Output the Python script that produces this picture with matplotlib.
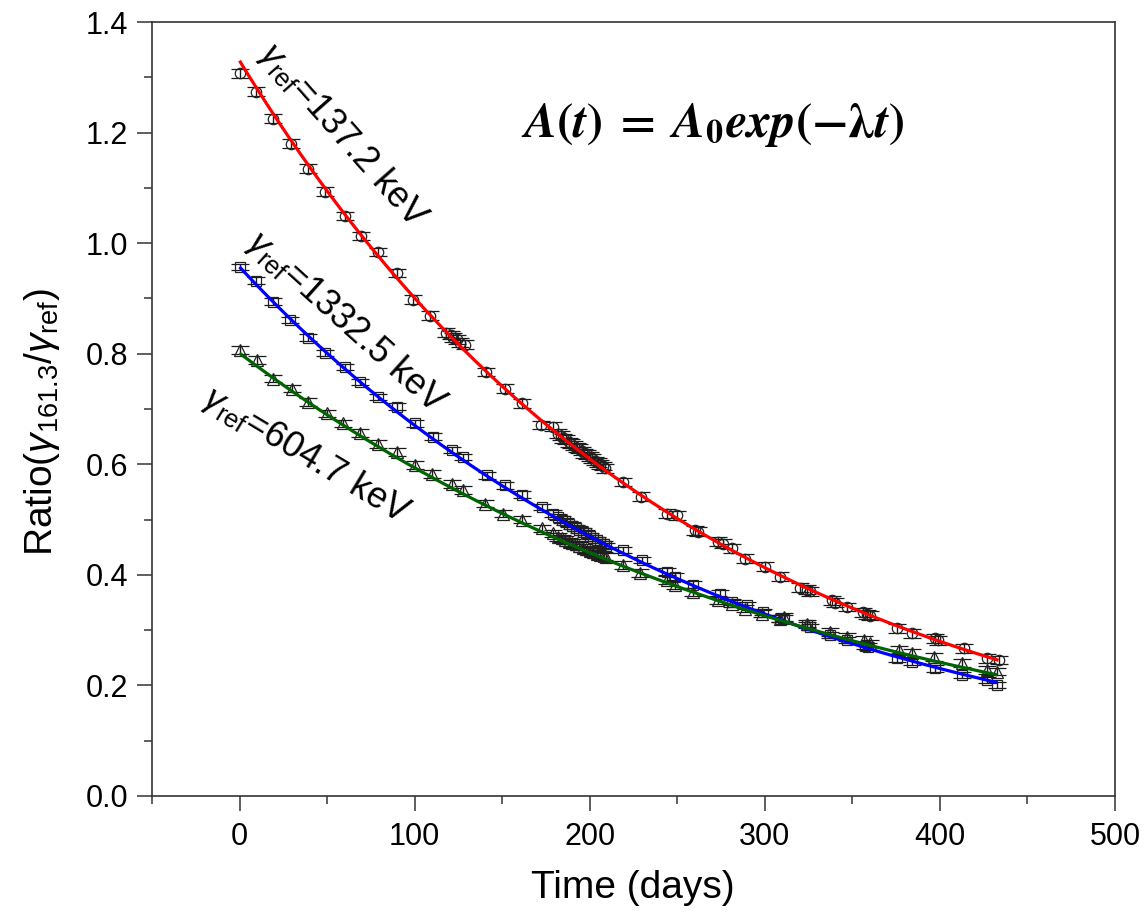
import matplotlib
matplotlib.use('Agg')
import matplotlib.pyplot as plt
import numpy as np
from matplotlib.ticker import MultipleLocator

# ---------------- data ----------------
t_137 = [0, 9.3, 19.2, 29.3, 39.2, 49.1, 60.2, 69.1, 79.2, 89.7, 99.2, 108.8, 118, 120.5, 122, 124, 126, 128.8,
         141, 151.6, 161.5, 172.2, 179.2, 182, 183.5, 185, 186.5, 188, 189.5, 191, 192.5, 194, 195.5, 197, 198.5,
         200, 201.5, 203, 204.5, 206, 207.5, 209, 219.2, 229.5, 244, 249.7, 260.2, 262, 273.5, 276, 281, 288.8,
         300.2, 308.8, 320.2, 324, 326, 338.3, 340, 346.9, 356, 358.3, 360, 375.4, 384, 397.3, 399, 413.5, 426.9, 433.5]
r_137 = [1.307, 1.274, 1.225, 1.180, 1.135, 1.093, 1.049, 1.013, 0.984, 0.946, 0.898, 0.869, 0.838, 0.834, 0.829,
         0.826, 0.820, 0.816, 0.767, 0.737, 0.710, 0.671, 0.668, 0.655, 0.652, 0.647, 0.645, 0.640, 0.637, 0.634,
         0.630, 0.628, 0.624, 0.620, 0.618, 0.614, 0.611, 0.606, 0.604, 0.600, 0.597, 0.593, 0.568, 0.541, 0.511,
         0.508, 0.481, 0.478, 0.460, 0.456, 0.448, 0.429, 0.415, 0.397, 0.377, 0.373, 0.370, 0.354, 0.350, 0.342,
         0.332, 0.329, 0.326, 0.303, 0.294, 0.285, 0.282, 0.267, 0.249, 0.246]
e_137 = 0.008

t_1332 = [0, 9.3, 19.2, 29.1, 39.2, 48.8, 60.2, 68.8, 79.2, 89.7, 100.2, 110.7, 121.1, 127.8, 141.1, 151.6, 161.1,
          172.6, 179.2, 182, 184, 186, 188, 190, 192, 194, 196, 198, 200, 202, 204, 206, 208, 209.5, 219.2, 229.7,
          244, 248.8, 259.2, 274.5, 281, 289.7, 299.1, 308.8, 310.7, 324, 326, 337.3, 346.9, 357, 359.2, 375.4,
          384, 397.3, 412.6, 426.9, 432.6]
r_1332 = [0.957, 0.932, 0.894, 0.861, 0.829, 0.801, 0.776, 0.749, 0.722, 0.704, 0.674, 0.650, 0.626, 0.613, 0.580,
          0.562, 0.545, 0.523, 0.511, 0.505, 0.500, 0.497, 0.492, 0.489, 0.485, 0.482, 0.478, 0.475, 0.470, 0.467,
          0.463, 0.459, 0.455, 0.452, 0.445, 0.427, 0.406, 0.397, 0.382, 0.366, 0.351, 0.345, 0.333, 0.321, 0.321,
          0.309, 0.306, 0.291, 0.282, 0.272, 0.270, 0.249, 0.243, 0.231, 0.219, 0.210, 0.201]
e_1332 = 0.006

t_604 = [0, 9.7, 19.2, 29.7, 39.2, 49.7, 59.2, 68.8, 79.2, 89.7, 100.2, 109.7, 121.1, 127.8, 140.2, 150.7, 161.1,
         172.6, 179.2, 182, 184, 186, 188, 190, 192, 194, 196, 198, 200, 202, 204, 206, 208, 209.5, 219.2, 228.8,
         244, 248.8, 259.2, 273.5, 281.1, 288.8, 298.3, 308.8, 310.7, 324, 337.3, 346.9, 356.4, 360.2, 376.4,
         384, 396.4, 412.6, 426.9, 432.6]
r_604 = [0.807, 0.788, 0.755, 0.737, 0.713, 0.692, 0.674, 0.656, 0.637, 0.622, 0.599, 0.583, 0.565, 0.553, 0.529,
         0.511, 0.500, 0.484, 0.475, 0.469, 0.466, 0.463, 0.460, 0.457, 0.455, 0.452, 0.449, 0.446, 0.443, 0.441,
         0.438, 0.436, 0.434, 0.432, 0.418, 0.403, 0.391, 0.382, 0.369, 0.354, 0.348, 0.339, 0.330, 0.321, 0.324,
         0.312, 0.297, 0.288, 0.282, 0.276, 0.264, 0.258, 0.252, 0.240, 0.228, 0.225]
e_604 = 0.007

# exponential fit parameters (A0, lambda per day, end time)
fit_137 = (1.330, 0.003898, 433.5)
fit_1332 = (0.957, 0.003558, 433.0)
fit_604 = (0.801, 0.002995, 433.0)

x_ticks = [0, 100, 200, 300, 400, 500]
y_ticks = [0.0, 0.2, 0.4, 0.6, 0.8, 1.0, 1.2, 1.4]

# ---------------- style ----------------
plt.rcParams['font.family'] = ['Liberation Sans', 'DejaVu Sans']
plt.rcParams['mathtext.fontset'] = 'custom'
plt.rcParams['mathtext.rm'] = 'Liberation Sans'
plt.rcParams['mathtext.it'] = 'Liberation Sans:italic'
plt.rcParams['mathtext.bf'] = 'Liberation Sans:bold'

fig = plt.figure(figsize=(11.47, 9.18), dpi=100)
ax = fig.add_axes([0.1325, 0.1329, 0.8396, 0.8431])

ecol = '#1a1a1a'
common = dict(linestyle='none', mfc='none', mec='#222222', mew=0.9, ecolor=ecol,
              elinewidth=1.0, capsize=6.5, capthick=1.0, zorder=2)
ax.errorbar(t_137, r_137, yerr=e_137, marker='o', ms=7.5, **common)
ax.errorbar(t_1332, r_1332, yerr=e_1332, marker='s', ms=7.5, **common)
ax.errorbar(t_604, r_604, yerr=e_604, marker='^', ms=8, **common)

for (a0, lam, tend), col in [(fit_137, 'red'), (fit_1332, 'blue'), (fit_604, '#006400')]:
    tt = np.linspace(0, tend, 300)
    ax.plot(tt, a0 * np.exp(-lam * tt), color=col, lw=2.3, zorder=3, solid_capstyle='butt')

ax.set_xlim(-50, 500)
ax.set_ylim(0, 1.4)
ax.set_xticks(x_ticks)
ax.set_yticks(y_ticks)
ax.set_yticklabels([f'{v:.1f}' for v in y_ticks])
ax.xaxis.set_minor_locator(MultipleLocator(50))
ax.yaxis.set_minor_locator(MultipleLocator(0.1))

spc = '#333333'
for s in ax.spines.values():
    s.set_linewidth(1.2)
    s.set_color(spc)
ax.tick_params(which='both', direction='out', color=spc, width=1.1, top=False, right=False)
ax.tick_params(which='major', length=11, labelsize=22, pad=6)
ax.tick_params(which='minor', length=6)
ax.tick_params(axis='x', which='major', pad=8)

ax.set_xlabel('Time (days)', fontsize=28)
ax.xaxis.set_label_coords(0.4995, -0.096)
ax.set_ylabel(r'Ratio($\gamma_{161.3}$/$\gamma_{\mathrm{ref}}$)', fontsize=28)
ax.yaxis.set_label_coords(-0.093, 0.483)

ax.text(59, 1.195, r'$\gamma_{\mathrm{ref}}$=137.2 keV', fontsize=26, rotation=-48.5,
        ha='center', va='center', rotation_mode='anchor')
ax.text(61, 0.857, r'$\gamma_{\mathrm{ref}}$=1332.5 keV', fontsize=26, rotation=-42,
        ha='center', va='center', rotation_mode='anchor')
ax.text(38.3, 0.617, r'$\gamma_{\mathrm{ref}}$=604.7 keV', fontsize=26, rotation=-31,
        ha='center', va='center', rotation_mode='anchor')

formula = (r'$\boldsymbol{A}\mathbf{(}\boldsymbol{t}\mathbf{)}\;\mathbf{=}\;\boldsymbol{A}_{\mathbf{0}}'
           r'\boldsymbol{exp}\mathbf{(}\mathbf{-}\boldsymbol{\lambda}\boldsymbol{t}\mathbf{)}$')
ax.text(270, 1.213, formula, fontsize=35, ha='center', va='center', math_fontfamily='stix')

fig.savefig('out.png', dpi=100)
